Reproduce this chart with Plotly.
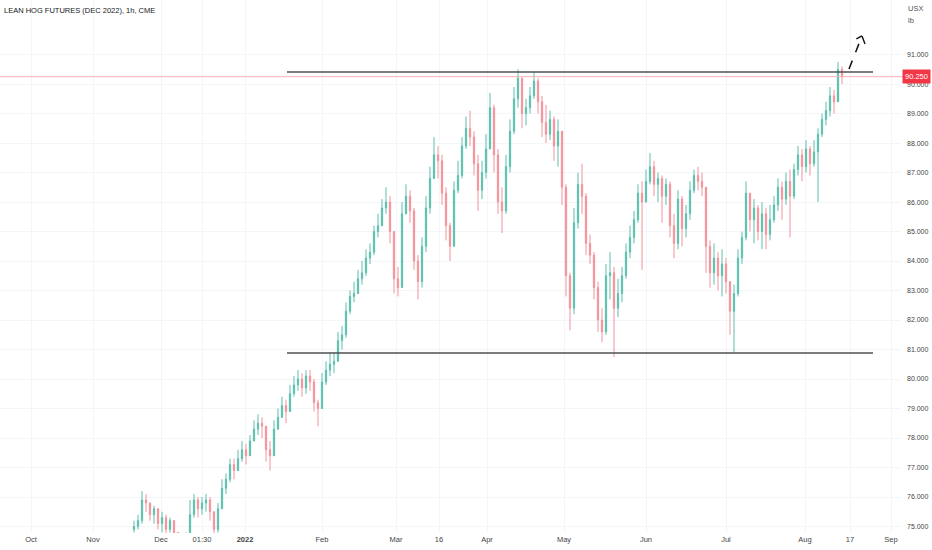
import plotly.graph_objects as go

# ---- data ----
close = [75.0, 75.2, 75.9, 75.8, 75.4, 75.6, 75.1, 75.3, 74.9, 75.2,
         74.8, 74.4, 74.2, 74.6, 75.4, 75.9, 75.6, 75.8, 75.9, 75.5,
         74.9, 75.6, 76.3, 76.6, 77.1, 76.9, 77.3, 77.6, 77.4, 77.9,
         78.3, 78.5, 78.4, 77.6, 77.4, 78.3, 78.7, 79.1, 78.9, 79.5,
         79.8, 80.0, 79.7, 80.1, 79.9, 79.2, 79.0, 79.9, 80.3, 80.5,
         80.6, 81.3, 81.5, 82.3, 82.8, 82.9, 83.4, 83.6, 84.1, 84.3,
         85.0, 85.2, 85.8, 86.0, 85.0, 83.4, 83.1, 85.6, 86.2, 85.7,
         84.0, 83.3, 84.5, 85.8, 86.8, 87.6, 87.4, 86.3, 85.2, 84.5,
         86.4, 86.9, 87.9, 88.5, 88.2, 87.3, 86.4, 87.0, 87.8, 89.2,
         87.6, 86.0, 85.7, 87.2, 88.4, 89.5, 90.2, 89.0, 89.2, 89.6,
         90.1, 89.4, 88.7, 88.3, 88.8, 87.9, 88.4, 86.5, 83.5, 82.4,
         85.3, 86.6, 86.2, 84.6, 84.2, 83.1, 82.0, 81.6, 83.5, 83.6,
         82.4, 82.9, 83.5, 84.3, 84.8, 85.4, 86.3, 86.0, 86.7, 87.2,
         86.6, 86.8, 86.2, 86.6, 85.2, 84.6, 86.1, 85.1, 85.6, 86.4,
         86.9, 86.7, 86.5, 84.5, 83.6, 84.1, 83.5, 83.9, 83.3, 82.3,
         82.9, 84.1, 84.8, 86.3, 85.4, 85.8, 85.0, 85.6, 84.9, 85.4,
         85.9, 86.5, 86.1, 86.7, 86.2, 87.1, 87.6, 87.2, 87.8, 87.3,
         87.7, 88.3, 88.8, 89.1, 89.6, 89.4, 90.5, 90.25]
high = [75.2, 75.4, 76.2, 76.1, 75.8, 75.7, 75.5, 75.5, 75.4, 75.3,
        75.2, 74.7, 74.5, 74.8, 75.9, 76.1, 76.0, 76.0, 76.1, 76.0,
        75.4, 75.8, 76.6, 76.8, 77.3, 77.3, 77.6, 77.9, 77.8, 78.1,
        78.6, 78.8, 78.7, 78.4, 77.9, 78.6, 79.0, 79.4, 79.3, 79.8,
        80.1, 80.3, 80.2, 80.3, 80.3, 80.0, 79.3, 80.2, 80.6, 80.9,
        80.9, 81.6, 81.8, 82.6, 83.0, 83.3, 83.7, 84.0, 84.4, 84.6,
        85.2, 85.6, 86.1, 86.5, 86.2, 85.0, 83.8, 86.0, 86.6, 86.4,
        85.8, 84.2, 84.8, 86.2, 87.2, 88.2, 87.9, 87.6, 86.5, 85.3,
        86.7, 87.4, 88.2, 88.9, 89.1, 88.4, 87.6, 87.4, 88.3, 89.7,
        89.3, 87.8, 86.5, 87.6, 88.8, 89.9, 90.5, 90.1, 89.5, 89.9,
        90.4, 90.2, 89.6, 89.3, 89.1, 88.9, 88.8, 88.0, 86.6, 83.6,
        85.8, 87.0, 87.3, 86.3, 84.9, 84.3, 83.3, 82.4, 83.9, 84.3,
        83.8, 83.4, 83.8, 84.6, 85.2, 85.7, 86.6, 86.7, 87.1, 87.66,
        87.4, 87.0, 86.9, 86.8, 86.7, 85.6, 86.4, 86.2, 85.9, 86.7,
        87.1, 87.2, 87.0, 86.4, 84.7, 84.6, 84.3, 84.4, 84.1, 83.0,
        83.2, 84.4, 85.0, 86.7, 86.3, 86.1, 85.9, 86.0, 85.8, 85.9,
        86.2, 86.8, 86.7, 87.0, 87.1, 87.3, 87.9, 87.8, 88.1, 87.9,
        88.1, 88.5, 89.0, 89.4, 89.9, 89.8, 90.75, 90.6]
low = [74.8, 74.9, 75.1, 75.5, 75.2, 75.1, 74.9, 74.8, 74.7, 74.8,
       74.5, 74.1, 73.9, 74.2, 74.6, 75.3, 75.3, 75.4, 75.5, 75.2,
       74.6, 74.8, 75.6, 76.1, 76.5, 76.6, 77.0, 77.2, 77.1, 77.4,
       77.9, 78.1, 78.0, 77.2, 76.9, 77.4, 78.3, 78.7, 78.5, 79.1,
       79.4, 79.6, 79.4, 79.5, 79.6, 78.9, 78.4, 79.0, 79.8, 80.1,
       80.2, 80.6, 81.0, 81.4, 82.2, 82.6, 82.9, 83.2, 83.5, 83.9,
       84.2, 84.8, 85.3, 85.6, 84.6, 82.9, 82.8, 83.1, 85.6, 85.3,
       83.7, 82.7, 83.1, 84.3, 85.6, 86.9, 86.8, 85.9, 84.7, 84.0,
       84.5, 86.3, 86.8, 87.8, 87.9, 86.9, 85.7, 86.1, 86.8, 87.9,
       87.0, 85.6, 84.95, 85.6, 87.0, 88.3, 89.2, 88.5, 88.6, 89.0,
       89.5, 89.0, 88.2, 88.0, 88.1, 87.4, 87.2, 85.9, 82.8, 81.65,
       82.2, 85.1, 85.6, 84.2, 83.9, 82.7, 81.6, 81.25, 81.5, 82.7,
       80.75, 82.1, 82.6, 83.4, 84.1, 84.6, 85.3, 83.7, 86.0, 86.6,
       86.2, 86.0, 85.3, 85.9, 84.8, 84.1, 84.4, 84.5, 84.8, 85.4,
       86.3, 86.4, 86.2, 83.6, 83.1, 83.2, 83.0, 82.8, 82.9, 81.5,
       80.9, 82.8, 83.9, 84.7, 85.0, 84.6, 84.7, 84.4, 84.4, 84.7,
       85.3, 85.7, 85.4, 85.9, 84.8, 86.1, 86.9, 86.7, 87.0, 86.9,
       87.2, 86.0, 88.2, 88.6, 88.9, 89.0, 89.7, 90.0]
first_open = 74.9

tick_labels = ["Oct", "Nov", "Dec", "01:30", "<b>2022</b>", "Feb", "Mar", "16",
               "Apr", "May", "Jun", "Jul", "Aug", "17", "Sep"]
tick_bar_pos = [-25.75, -10.25, 6.75, 17, 27.75, 47, 65.5, 76.25,
                88.25, 107.5, 128, 148, 167.75, 179, 189.25]
price_ticks = list(range(75, 92))

resistance = 90.41
support = 80.88
line_start_bar = 38.25
line_end_bar = 184.75
last_price = 90.25
arrow_from = (178.75, 90.51)
arrow_tip = (182.0, 91.63)
arrow_head_left = (180.6, 91.53)
arrow_head_right = (182.75, 91.36)

# ---- build ----
bars = list(range(len(close)))
opens = [first_open] + close[:-1]

fig = go.Figure()
fig.add_trace(go.Candlestick(
    x=bars, open=opens, high=high, low=low, close=close,
    increasing=dict(line=dict(color="#5cbfae", width=1), fillcolor="#5cbfae"),
    decreasing=dict(line=dict(color="#f2939a", width=1), fillcolor="#f2939a"),
    whiskerwidth=0, showlegend=False, hoverinfo="skip",
))

# horizontal levels
for lvl in (resistance, support):
    fig.add_shape(type="line", xref="x", yref="y", x0=line_start_bar, x1=line_end_bar,
                  y0=lvl, y1=lvl, line=dict(color="#505050", width=1.5))
fig.add_shape(type="line", xref="paper", yref="y", x0=0, x1=1.004,
              y0=last_price, y1=last_price, line=dict(color="#f7b0b6", width=1))

# dashed arrow
dash_line = dict(color="#111111", width=1.5, dash="dash")
fig.add_shape(type="line", xref="x", yref="y", x0=arrow_from[0], y0=arrow_from[1],
              x1=arrow_tip[0], y1=arrow_tip[1], line=dash_line)
for hx, hy in (arrow_head_left, arrow_head_right):
    fig.add_shape(type="line", xref="x", yref="y", x0=arrow_tip[0], y0=arrow_tip[1],
                  x1=hx, y1=hy, line=dict(color="#111111", width=1.4))

# price label
fig.add_annotation(xref="paper", yref="y", x=1.0, y=last_price, xanchor="left", xshift=2,
                   text="90.250", showarrow=False, bgcolor="#f23645",
                   font=dict(color="white", size=7.5, family="Liberation Sans"),
                   borderpad=2)

# title and units
fig.add_annotation(xref="paper", yref="paper", x=0.0, y=1.0, xanchor="left", yanchor="top",
                   xshift=2, yshift=-4, text="LEAN HOG FUTURES (DEC 2022), 1h, CME",
                   showarrow=False, font=dict(size=7.5, color="#131722", family="Liberation Sans"))
fig.add_annotation(xref="paper", yref="paper", x=1.0, y=1.0, xanchor="left", yanchor="top",
                   xshift=6, yshift=-2, text="USX", showarrow=False,
                   font=dict(size=7.5, color="#555555", family="Liberation Sans"))
fig.add_annotation(xref="paper", yref="paper", x=1.0, y=1.0, xanchor="left", yanchor="top",
                   xshift=6, yshift=-14, text="lb", showarrow=False,
                   font=dict(size=7.5, color="#555555", family="Liberation Sans"))

fig.update_layout(
    width=932, height=550,
    margin=dict(l=0, r=32, t=0, b=17),
    paper_bgcolor="white", plot_bgcolor="white",
    boxgap=0.55,
    font=dict(family="Liberation Sans", size=7.5, color="#444444"),
    xaxis=dict(range=[-33.5, 191.5], tickvals=tick_bar_pos, ticktext=tick_labels,
               showgrid=True, gridcolor="#f4f5f9", zeroline=False, showline=False,
               ticks="", rangeslider=dict(visible=False), fixedrange=True,
               automargin=False, tickfont=dict(size=7.5, color="#444444")),
    yaxis=dict(side="right", range=[74.78, 92.85], tickvals=price_ticks,
               ticktext=[f"{v}.000" for v in price_ticks],
               showgrid=True, gridcolor="#f4f5f9", zeroline=False, showline=False,
               ticks="", ticklabelstandoff=6, automargin=False,
               tickfont=dict(size=7, color="#444444")),
)

fig.write_html("out.html", config={"displayModeBar": False},
               post_script="document.body.style.margin='0';document.body.style.overflow='hidden';")
